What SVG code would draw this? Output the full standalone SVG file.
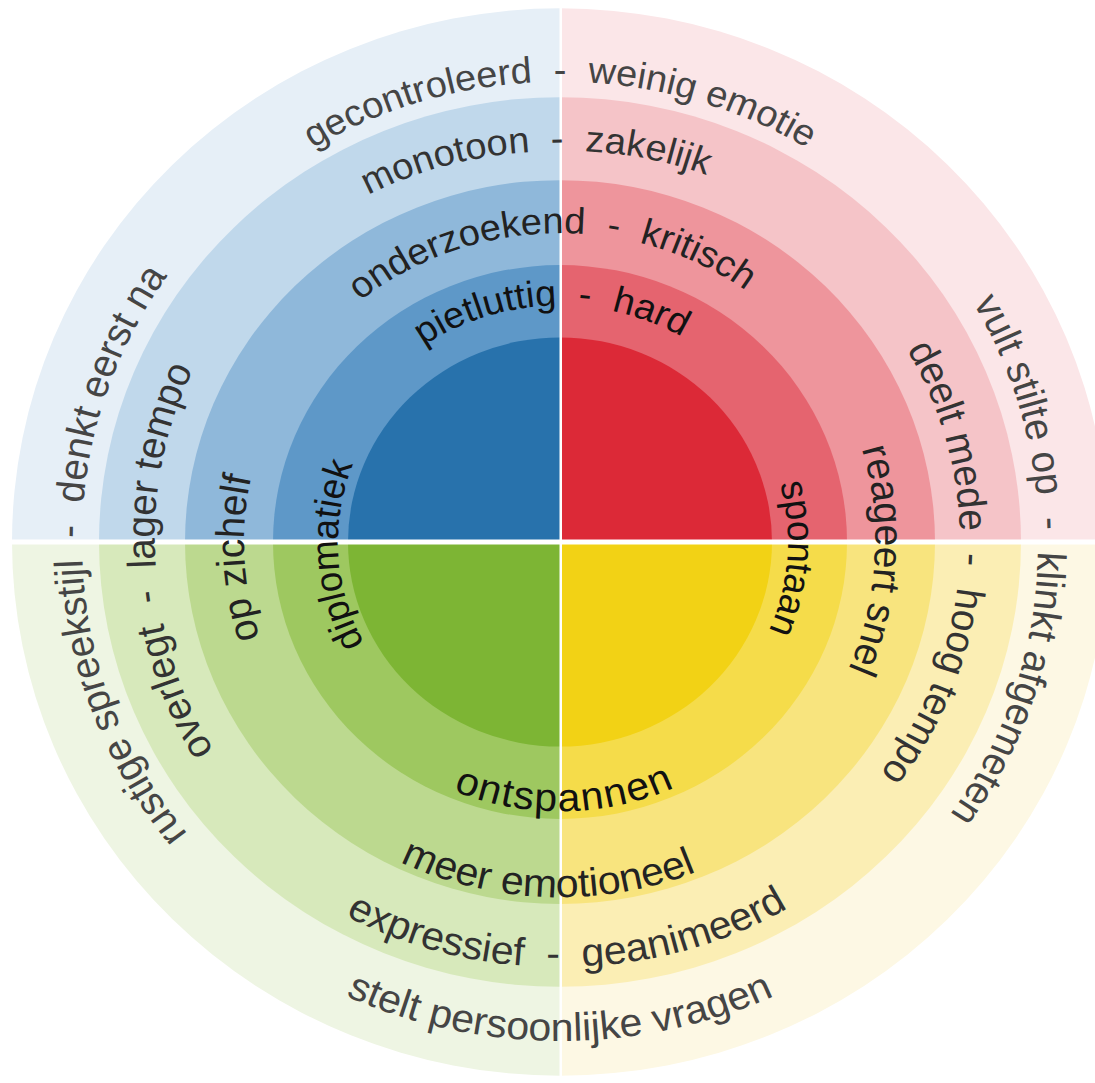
<svg xmlns="http://www.w3.org/2000/svg" xmlns:xlink="http://www.w3.org/1999/xlink" width="1095" height="1083" viewBox="0 0 1095 1083">
<style>
.t{font-family:"Liberation Sans",Arial,sans-serif;font-size:38px;}
.side{font-size:40px;}
.bot{font-size:41px;}
.r5{fill:#454545}.r4{fill:#333333}.r3{fill:#222222}.r2{fill:#111111}
</style>
<defs>
<path id="pT5" d="M0,477 A477,477 0 1 1 0,-477 A477,477 0 1 1 0,477"/>
<path id="pL5" d="M477.7,-16.7 A478,478 0 1 1 -477.7,16.7 A478,478 0 1 1 477.7,-16.7"/>
<path id="pR5" d="M-477.5,-20.9 A478,478 0 1 1 477.5,20.9 A478,478 0 1 1 -477.5,-20.9"/>
<path id="pB5" d="M0,-517 A517,517 0 1 0 0,517 A517,517 0 1 0 0,-517"/>
<path id="pT4" d="M24.7,404.2 A405,405 0 1 1 -24.7,-404.2 A405,405 0 1 1 24.7,404.2"/>
<path id="pL4" d="M404.4,-21.2 A405,405 0 1 1 -404.4,21.2 A405,405 0 1 1 404.4,-21.2"/>
<path id="pR4" d="M-399.3,-24.4 A400,400 0 1 1 399.3,24.4 A400,400 0 1 1 -399.3,-24.4"/>
<path id="pB4" d="M-7.7,-439.9 A440,440 0 1 0 7.7,439.9 A440,440 0 1 0 -7.7,-439.9"/>
<path id="pT3" d="M8.9,319.9 A320,320 0 1 1 -8.9,-319.9 A320,320 0 1 1 8.9,319.9"/>
<path id="pL3" d="M315.6,-16.5 A316,316 0 1 1 -315.6,16.5 A316,316 0 1 1 315.6,-16.5"/>
<path id="pR3" d="M-314.4,-18.7 A315,315 0 1 1 314.4,18.7 A315,315 0 1 1 -314.4,-18.7"/>
<path id="pB3" d="M12.8,-367.8 A368,368 0 1 0 -12.8,367.8 A368,368 0 1 0 12.8,-367.8"/>
<path id="pT2" d="M8.6,244.9 A245,245 0 1 1 -8.6,-244.9 A245,245 0 1 1 8.6,244.9"/>
<path id="pL2" d="M221.6,-13.6 A222,222 0 1 1 -221.6,13.6 A222,222 0 1 1 221.6,-13.6"/>
<path id="pR2" d="M-227.4,-16.7 A228,228 0 1 1 227.4,16.7 A228,228 0 1 1 -227.4,-16.7"/>
<path id="pB2" d="M-4.9,-279 A279,279 0 1 0 4.9,279 A279,279 0 1 0 -4.9,-279"/>
</defs>
<rect width="1095" height="1083" fill="#ffffff"/>
<g transform="translate(560,542) scale(1,0.965)">
<g id="quadrant-blue">
<path fill="#e6eff7" d="M0,0 L-548,0 A548,553 0 0 1 0,-553 Z"/>
<path fill="#c0d8eb" d="M0,0 L-461,0 A461,461 0 0 1 0,-461 Z"/>
<path fill="#8fb8da" d="M0,0 L-375,0 A375,375 0 0 1 0,-375 Z"/>
<path fill="#5e98c8" d="M0,0 L-287,0 A287,287 0 0 1 0,-287 Z"/>
<path fill="#2872ac" d="M0,0 L-212,0 A212,212 0 0 1 0,-212 Z"/>
</g>
<g id="quadrant-red">
<path fill="#fbe6e8" d="M0,0 L0,-553 A548,553 0 0 1 548,0 Z"/>
<path fill="#f5c4c8" d="M0,0 L0,-461 A461,461 0 0 1 461,0 Z"/>
<path fill="#ee959c" d="M0,0 L0,-375 A375,375 0 0 1 375,0 Z"/>
<path fill="#e5646f" d="M0,0 L0,-287 A287,287 0 0 1 287,0 Z"/>
<path fill="#dc2937" d="M0,0 L0,-212 A212,212 0 0 1 212,0 Z"/>
</g>
<g id="quadrant-yellow">
<path fill="#fdf8e4" d="M0,0 L548,0 A548,553 0 0 1 0,553 Z"/>
<path fill="#fbeeb4" d="M0,0 L461,0 A461,461 0 0 1 0,461 Z"/>
<path fill="#f8e47e" d="M0,0 L375,0 A375,375 0 0 1 0,375 Z"/>
<path fill="#f5dc4a" d="M0,0 L287,0 A287,287 0 0 1 0,287 Z"/>
<path fill="#f2d215" d="M0,0 L212,0 A212,212 0 0 1 0,212 Z"/>
</g>
<g id="quadrant-green">
<path fill="#eef5e3" d="M0,0 L0,553 A548,553 0 0 1 -548,0 Z"/>
<path fill="#d7e9bb" d="M0,0 L0,461 A461,461 0 0 1 -461,0 Z"/>
<path fill="#bcd98f" d="M0,0 L0,375 A375,375 0 0 1 -375,0 Z"/>
<path fill="#9ec860" d="M0,0 L0,287 A287,287 0 0 1 -287,0 Z"/>
<path fill="#7db534" d="M0,0 L0,212 A212,212 0 0 1 -212,0 Z"/>
</g>
</g>
<g id="dividers" fill="#ffffff">
<rect x="559.5" y="0" width="2.5" height="1083"/>
<rect x="0" y="539.5" width="1095" height="5"/>
</g>
<g transform="translate(560,542) scale(1,0.965)">
<g id="ring5-labels" class="t r5" text-anchor="middle">
<text xml:space="preserve"><textPath xlink:href="#pT5" href="#pT5" startOffset="50%">gecontroleerd  -  weinig emotie</textPath></text>
<text class="side" xml:space="preserve"><textPath xlink:href="#pL5" href="#pL5" startOffset="50%">rustige spreekstijl  -  denkt eerst na</textPath></text>
<text class="side" xml:space="preserve"><textPath xlink:href="#pR5" href="#pR5" startOffset="50%">vult stilte op  -  klinkt afgemeten</textPath></text>
<text class="bot"><textPath xlink:href="#pB5" href="#pB5" startOffset="50%">stelt persoonlijke vragen</textPath></text>
</g>
<g id="ring4-labels" class="t r4" text-anchor="middle">
<text xml:space="preserve"><textPath xlink:href="#pT4" href="#pT4" startOffset="50%">monotoon  -  zakelijk</textPath></text>
<text class="side" xml:space="preserve"><textPath xlink:href="#pL4" href="#pL4" startOffset="50%">overlegt  -  lager tempo</textPath></text>
<text class="side" xml:space="preserve"><textPath xlink:href="#pR4" href="#pR4" startOffset="50%">deelt mede  -  hoog tempo</textPath></text>
<text class="bot" xml:space="preserve"><textPath xlink:href="#pB4" href="#pB4" startOffset="50%">expressief  -  geanimeerd</textPath></text>
</g>
<g id="ring3-labels" class="t r3" text-anchor="middle">
<text xml:space="preserve"><textPath xlink:href="#pT3" href="#pT3" startOffset="50%">onderzoekend  -  kritisch</textPath></text>
<text class="side"><textPath xlink:href="#pL3" href="#pL3" startOffset="50%">op zichelf</textPath></text>
<text class="side"><textPath xlink:href="#pR3" href="#pR3" startOffset="50%">reageert snel</textPath></text>
<text class="bot"><textPath xlink:href="#pB3" href="#pB3" startOffset="50%">meer emotioneel</textPath></text>
</g>
<g id="ring2-labels" class="t r2" text-anchor="middle">
<text xml:space="preserve"><textPath xlink:href="#pT2" href="#pT2" startOffset="50%">pietluttig  -  hard</textPath></text>
<text><textPath xlink:href="#pL2" href="#pL2" startOffset="50%">diplomatiek</textPath></text>
<text><textPath xlink:href="#pR2" href="#pR2" startOffset="50%">spontaan</textPath></text>
<text class="bot" letter-spacing="1.5"><textPath xlink:href="#pB2" href="#pB2" startOffset="50%">ontspannen</textPath></text>
</g>
</g>
</svg>
